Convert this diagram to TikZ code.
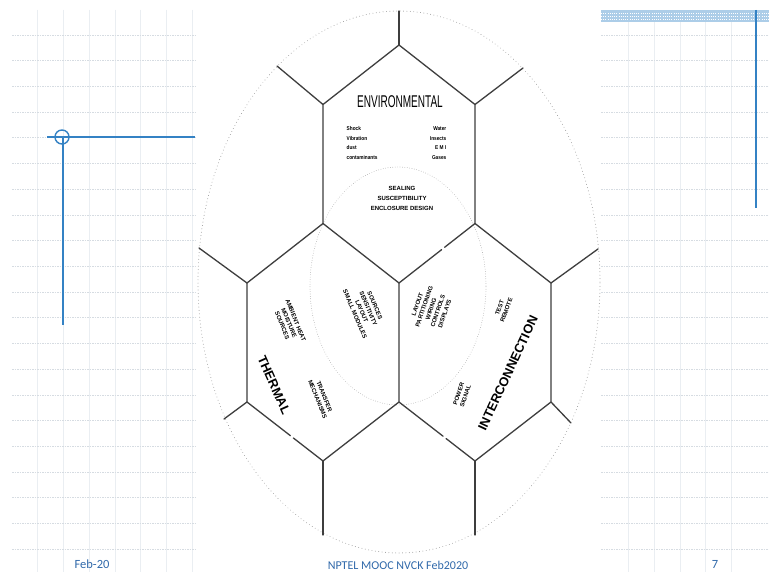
\documentclass[tikz,border=0pt]{standalone}
\usepackage{fontspec}
\setmainfont{Liberation Sans}
\newfontfamily\footfont{Carlito}
\usetikzlibrary{calc}
\definecolor{gridv}{RGB}{234,238,242}
\definecolor{gridh}{RGB}{214,220,226}
\definecolor{slideblue}{RGB}{52,130,196}
\definecolor{barblue}{RGB}{172,205,232}
\definecolor{footblue}{RGB}{48,105,170}
\definecolor{hexline}{RGB}{62,62,62}
\definecolor{dotgray}{RGB}{150,150,150}
\begin{document}
\begin{tikzpicture}[x=1pt,y=-1pt,
  hexedge/.style={draw=hexline, line width=1.3pt, line cap=round},
  outerdots/.style={draw=dotgray, line width=0.9pt, dash pattern=on 0.01pt off 3.4pt, line cap=round},
  innerdots/.style={draw=dotgray, line width=0.7pt, dash pattern=on 0.01pt off 2.4pt, line cap=round},
  gridvline/.style={draw=gridv, line width=0.6pt},
  gridhline/.style={draw=gridh, line width=0.6pt, dash pattern=on 1.5pt off 1pt},
  bigtitle/.style={inner sep=0, font=\fontsize{12.8}{12.8}\selectfont\bfseries},
  smallblock/.style={inner sep=0, font=\fontsize{6}{7.2}\selectfont\bfseries, align=center},
  envtext/.style={inner sep=0, font=\fontsize{5.6}{9.7}\selectfont\bfseries, xscale=0.85},
  foottext/.style={inner sep=0, text=footblue, font=\footfont\fontsize{12.5}{12.5}\selectfont},
  ]
\useasboundingbox (0,0) rectangle (769,572);
\fill[white] (0,0) rectangle (769,572);

% ---- slide grid, left and right
\foreach \gx in {37.7,63.4,89.1,114.8,140.5,166.2,191.9}
  \draw[gridvline] (\gx,10) -- (\gx,572);
\foreach \gx in {628.6,654.3,680,705.7,731.4}
  \draw[gridvline] (\gx,22) -- (\gx,572);
\foreach \k in {0,...,20}{
  \pgfmathsetmacro\gy{35+25.7*\k}
  \draw[gridhline] (12,\gy) -- (195,\gy);
  \draw[gridhline] (601,\gy) -- (769,\gy);
}

% ---- slide blue decorations
\fill[barblue] (601,10) rectangle (769,22);
\foreach \by in {13,16,19}
  \draw[white, line width=0.8pt, dash pattern=on 1pt off 1.2pt] (601,\by) -- (769,\by);
\draw[slideblue, line width=2pt] (756,10) -- (756,208);
\draw[slideblue, line width=1.8pt] (47,137) -- (195,137);
\draw[slideblue, line width=1.8pt] (63,137) -- (63,325);
\draw[slideblue, line width=1.4pt] (62,137) circle[radius=7pt];

% ---- hexagon vertices
\coordinate (Etop) at (399,45);
\coordinate (Eul) at (323,104.5);
\coordinate (Eur) at (475,104.5);
\coordinate (Ell) at (323,223.5);
\coordinate (Elr) at (475,223.5);
\coordinate (Ebot) at (399,283);
\coordinate (Tul) at (247,283);
\coordinate (Tll) at (247,402);
\coordinate (Tbot) at (323,461);
\coordinate (Mid) at (399,402);
\coordinate (Iur) at (551,283);
\coordinate (Ilr) at (551,402);
\coordinate (Ibot) at (475,461);
% spoke ends
\coordinate (s1) at (399,11);
\coordinate (s2) at (277,66);
\coordinate (s3) at (523,68);
\coordinate (s4) at (199,248);
\coordinate (s5) at (598,249);
\coordinate (s6) at (224,419);
\coordinate (s7) at (571,423);
\coordinate (s8) at (323,535);
\coordinate (s9) at (475,535);

% ---- dotted ellipses
\draw[outerdots] (399,282) ellipse[x radius=201pt, y radius=271pt];
\draw[innerdots] (398,286) ellipse[x radius=88pt, y radius=119pt];

% ---- hexagon edges
\draw[hexedge] (Ell) -- (Eul) -- (Etop) -- (Eur) -- (Elr);
\draw[hexedge] (Ell) -- (Ebot);
\draw[hexedge] (Elr) -- ($(Elr)!0.40!(Ebot)$);
\draw[hexedge] ($(Elr)!0.44!(Ebot)$) -- (Ebot);
\draw[hexedge] (Ell) -- (Tul) -- (Tll) -- ($(Tll)!0.57!(Tbot)$);
\draw[hexedge] ($(Tll)!0.61!(Tbot)$) -- (Tbot) -- (Mid) -- (Ebot);
\draw[hexedge] (Elr) -- (Iur) -- (Ilr) -- (Ibot);
\draw[hexedge] (Mid) -- ($(Mid)!0.58!(Ibot)$);
\draw[hexedge] ($(Mid)!0.62!(Ibot)$) -- (Ibot);
% spokes
\draw[hexedge] (Etop) -- (s1);
\draw[hexedge] (Eul) -- (s2);
\draw[hexedge] (Eur) -- (s3);
\draw[hexedge] (Tul) -- (s4);
\draw[hexedge] (Iur) -- (s5);
\draw[hexedge] (Tll) -- (s6);
\draw[hexedge] (Ilr) -- (s7);
\draw[hexedge] (Tbot) -- (s8);
\draw[hexedge] (Ibot) -- (s9);

% ---- texts
\node[inner sep=0, font=\fontsize{17}{17}\selectfont, xscale=0.59] (envtitle) at (400,102) {ENVIRONMENTAL};
\node[envtext, anchor=west, align=left] (envleft) at (346.5,143) {Shock\\Vibration\\dust\\contaminants};
\node[envtext, anchor=east, align=right] (envright) at (446.5,143) {Water\\Insects\\E M I\\Gases};
\node[inner sep=0, font=\fontsize{6}{10}\selectfont\bfseries, align=center] (sealing) at (402,198) {SEALING\\SUSCEPTIBILITY\\ENCLOSURE DESIGN};

\node[bigtitle, rotate=-66] (thermal) at (274,385) {THERMAL};
\node[bigtitle, rotate=65] (inter) at (508,373) {INTERCONNECTION};

\node[smallblock, rotate=-68] (ambient) at (289,323) {AMBIENT HEAT\\MOISTURE\\SOURCES};
\node[smallblock, rotate=-67] (sources) at (365,310) {SOURCES\\SENSITIVITY\\LAYOUT\\SMALL MODULES};
\node[smallblock, rotate=-68] (transfer) at (321,398) {TRANSFER\\MECHANISMS};
\node[smallblock, rotate=71] (layout) at (431,309) {LAYOUT\\PARTITIONING\\WIRING\\CONTROLS\\DISPLAYS};
\node[smallblock, rotate=70] (test) at (503,309) {TEST\\REMOTE};
\node[smallblock, rotate=71] (power) at (462,395) {POWER\\SIGNAL};

% ---- footer
\node[foottext] (date) at (92,564) {Feb-20};
\node[foottext, font=\footfont\fontsize{12}{12}\selectfont] (course) at (398,565) {NPTEL MOOC NVCK Feb2020};
\node[foottext] (page) at (715,564) {7};
\end{tikzpicture}
\end{document}
